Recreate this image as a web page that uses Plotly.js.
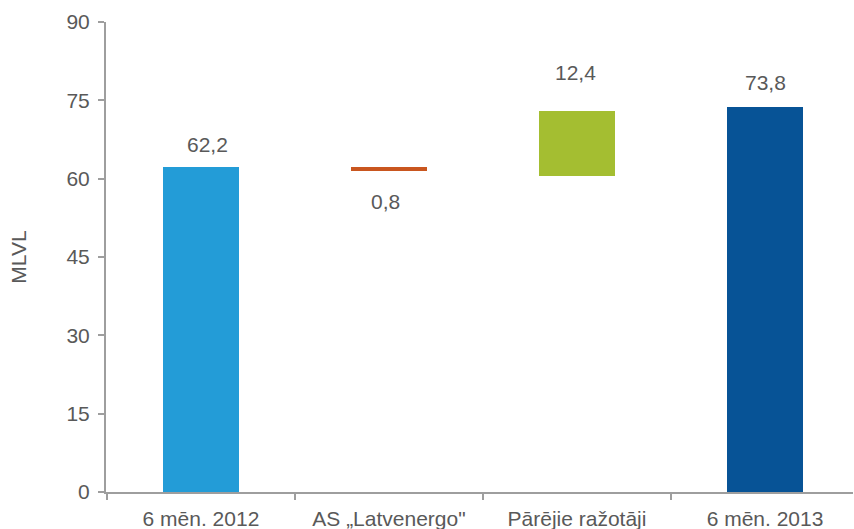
<!DOCTYPE html>
<html>
<head>
<meta charset="utf-8">
<script src="https://cdn.plot.ly/plotly-3.0.1.min.js"></script>
<style>html,body{margin:0;padding:0;background:#fff;}#chart{width:854px;height:529px;}</style>
</head>
<body>
<div id="chart"></div>
<script>
const categories = ['6 mēn. 2012', 'AS „Latvenergo"', 'Pārējie ražotāji', '6 mēn. 2013'];
const baseValues = [0, 61.4, 60.6, 0];
const barValues = [62.2, 0.8, 12.4, 73.8];
const valueLabels = ['62,2', '0,8', '12,4', '73,8'];
const barColors = ['#239CD7', '#C9561F', '#A4BE31', '#075396'];
const yTicks = [0, 15, 30, 45, 60, 75, 90];

const labelBelow = [false, true, false, false];
const labelShift = [23, -30, 38, 24];
const labelXShift = [7, -3, -1, 0];

const textColor = '#595959';
const font = {family: 'Liberation Sans, Arial, sans-serif', size: 21, color: textColor};

const traces = [
  {type: 'bar', x: categories, y: baseValues, marker: {color: 'rgba(0,0,0,0)'}, hoverinfo: 'skip', showlegend: false},
  {type: 'bar', x: categories, y: barValues, marker: {color: barColors}, showlegend: false}
];

const annotations = categories.map((c, i) => ({
  x: c, y: labelBelow[i] ? baseValues[i] : baseValues[i] + barValues[i],
  text: valueLabels[i], showarrow: false, xanchor: 'center',
  yanchor: 'middle', yshift: labelShift[i], xshift: labelXShift[i],
  font: font
}));

const layout = {
  width: 854, height: 529,
  margin: {l: 106, r: 1, t: 22, b: 37},
  paper_bgcolor: '#fff', plot_bgcolor: '#fff',
  barmode: 'stack', bargap: 0.593,
  font: font,
  xaxis: {
    range: [-0.505, 3.468],
    showline: true, linecolor: '#9E9E9E', linewidth: 2,
    ticks: 'outside', tickson: 'boundaries', ticklen: 6, tickcolor: '#9E9E9E', tickwidth: 2,
    ticklabelstandoff: 7,
    tickfont: font, showgrid: false, zeroline: false, fixedrange: true
  },
  yaxis: {
    range: [0, 90], tickvals: yTicks, ticktext: yTicks.map(String),
    showline: true, linecolor: '#9E9E9E', linewidth: 2,
    ticks: 'outside', ticklen: 6, tickcolor: '#9E9E9E', tickwidth: 2,
    ticklabelstandoff: 4,
    tickfont: font, showgrid: false, zeroline: false,
    title: {text: 'MLVL', font: font, standoff: 34}
  },
  annotations: annotations
};

Plotly.newPlot('chart', traces, layout, {displayModeBar: false, staticPlot: true});
</script>
</body>
</html>
